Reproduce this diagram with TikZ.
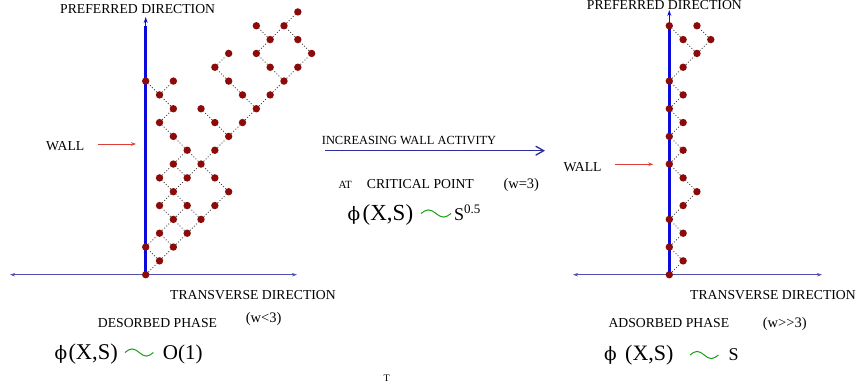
\documentclass[tikz,border=0pt]{standalone}
\usepackage{fontspec}
\setmainfont{Liberation Serif}
\newfontfamily\phifont{DejaVu Serif}
\usetikzlibrary{arrows.meta}
\definecolor{dotred}{RGB}{140,10,10}
\definecolor{wallblue}{RGB}{10,10,220}
\definecolor{axisblue}{RGB}{80,80,175}
\definecolor{arrowred}{RGB}{225,60,60}
\definecolor{tildegreen}{RGB}{20,160,20}
\definecolor{actblue}{RGB}{45,45,160}
\newcommand{\fsz}[1]{\fontsize{#1}{#1}\selectfont}
\begin{document}
\begin{tikzpicture}[x=1pt,y=1pt,
  dot/.style={circle,fill=dotred,inner sep=0pt,minimum size=7.4pt},
  bond/.style={dotted,line width=0.9pt,black!75},
  wallline/.style={wallblue,line width=2.8pt},
  walltip/.style={wallblue,line width=1pt,-{Stealth[length=6pt,width=4pt]}},
  axisline/.style={axisblue,line width=0.9pt,{Stealth[length=5pt,width=3.5pt]}-{Stealth[length=5pt,width=3.5pt]}},
  redarrow/.style={arrowred,line width=0.9pt,-{Stealth[length=5pt,width=3.5pt]}},
  actarrow/.style={actblue,line width=1.3pt,-{Straight Barb[length=8pt,width=9pt,line width=1.3pt]}},
  lbl/.style={inner sep=0pt,anchor=base west,font=\fsz{13.7}},
  fml/.style={inner sep=0pt,anchor=base west},
  wave/.style={tildegreen,line width=1pt}
]
\useasboundingbox (0,0) rectangle (858,389);

% ---------------- LEFT PANEL ----------------
\coordinate (Lbase) at (145.7,114.3);
\coordinate (Lwtop) at (145.7,363);
\coordinate (Lwtip) at (145.7,372);
\coordinate (Laxl) at (10,114.3);
\coordinate (Laxr) at (297,114.3);
\draw[axisline] (Laxl) -- (Laxr);
\draw[wallline] (Lbase) -- (Lwtop);
\draw[walltip] (Lwtop) -- (Lwtip);

\begin{scope}[shift={(145.7pt,114.3pt)},x=13.83pt,y=13.83pt]
\foreach \i/\j in {0/0,1/1,0/2,2/2,1/3,3/3,2/4,4/4,1/5,3/5,5/5,2/6,6/6,
  1/7,3/7,5/7,2/8,4/8,3/9,5/9,2/10,6/10,1/11,5/11,7/11,2/12,4/12,8/12,
  1/13,7/13,9/13,0/14,2/14,6/14,10/14,5/15,9/15,11/15,6/16,8/16,12/16,
  9/17,11/17,8/18,10/18,11/19}
  \node[dot] (L\i-\j) at (\i,\j) {};
\end{scope}
\foreach \a/\b in {0-0/1-1,1-1/0-2,1-1/2-2,0-2/1-3,2-2/1-3,2-2/3-3,
  1-3/2-4,3-3/2-4,3-3/4-4,2-4/1-5,2-4/3-5,4-4/3-5,4-4/5-5,
  1-5/2-6,3-5/2-6,5-5/6-6,2-6/1-7,2-6/3-7,6-6/5-7,
  1-7/2-8,3-7/2-8,3-7/4-8,5-7/4-8,2-8/3-9,4-8/3-9,4-8/5-9,
  3-9/2-10,5-9/6-10,2-10/1-11,6-10/5-11,6-10/7-11,
  1-11/2-12,5-11/4-12,7-11/8-12,2-12/1-13,8-12/7-13,8-12/9-13,
  1-13/0-14,1-13/2-14,7-13/6-14,9-13/10-14,6-14/5-15,10-14/9-15,10-14/11-15,
  5-15/6-16,9-15/8-16,11-15/12-16,8-16/9-17,12-16/11-17,
  9-17/8-18,9-17/10-18,11-17/10-18,10-18/11-19}
  \draw[bond] (L\a) -- (L\b);

\node[lbl] (Lpref) at (60,375.7) {PREFERRED DIRECTION};
\node[lbl] (Lwall) at (46,238.3) {WALL};
\coordinate (Lra) at (97.7,245);
\coordinate (Lrb) at (136,245);
\draw[redarrow] (Lra) -- (Lrb);
\node[lbl] (Ltrans) at (170,89.7) {TRANSVERSE DIRECTION};
\node[lbl] (Ldes) at (97.7,61.3) {DESORBED PHASE};
\node[lbl,font=\fsz{14.5}] (Lw) at (245.7,66.3) {(w<3)};
\node[fml,font=\fsz{18.5}\phifont] (Lphi) at (54.5,29.7) {ϕ};
\node[fml,font=\fsz{22.5}] (Lxs) at (68.3,29.7) {(X,S)};
\coordinate (Lt) at (125,36.5);
\draw[wave] (Lt) sin ++(7.1,3.6) cos ++(7.1,-3.6) sin ++(7.1,-3.6) cos ++(7.1,3.6);
\node[fml,font=\fsz{21}] (LO) at (162.7,29.7) {O(1)};

% ---------------- MIDDLE ----------------
\node[lbl,font=\fsz{12.4}] (Minc) at (321.7,245) {INCREASING WALL ACTIVITY};
\coordinate (Ma) at (325,238.3);
\coordinate (Mb) at (545,238.3);
\draw[actarrow] (Ma) -- (Mb);
\node[lbl,font=\fsz{11}] (Mat) at (338.3,200.5) {AT};
\node[lbl] (Mcrit) at (366.7,200.5) {CRITICAL POINT};
\node[lbl,font=\fsz{14.5}] (Mw) at (503.3,200.5) {(w=3)};
\node[fml,font=\fsz{18.5}\phifont] (Mphi) at (347.5,168.3) {ϕ};
\node[fml,font=\fsz{23}] (Mxs) at (362.5,168.3) {(X,S)};
\coordinate (Mt) at (421,175.5);
\draw[wave] (Mt) sin ++(7.5,3.6) cos ++(7.5,-3.6) sin ++(7.5,-3.6) cos ++(7.5,3.6);
\node[fml,font=\fsz{18}] (Ms) at (454,168.3) {S\raisebox{7pt}{\fsz{13}0.5}};

% ---------------- RIGHT PANEL ----------------
\coordinate (Rbase) at (669.3,114.3);
\coordinate (Rwtop) at (669.3,366);
\coordinate (Rwtip) at (669.3,379);
\coordinate (Raxl) at (573,114.3);
\coordinate (Raxr) at (822,114.3);
\draw[axisline] (Raxl) -- (Raxr);
\draw[wallline] (Rbase) -- (Rwtop);
\draw[walltip] (Rwtop) -- (Rwtip);

\begin{scope}[shift={(669.3pt,114.3pt)},x=13.83pt,y=13.83pt]
\foreach \i/\j in {0/0,1/1,0/2,1/3,0/4,1/5,2/6,1/7,0/8,1/9,0/10,1/11,
  0/12,1/13,0/14,1/15,2/16,1/17,3/17,0/18,2/18}
  \node[dot] (R\i-\j) at (\i,\j) {};
\end{scope}
\foreach \a/\b in {0-0/1-1,1-1/0-2,0-2/1-3,1-3/0-4,0-4/1-5,1-5/2-6,2-6/1-7,
  1-7/0-8,0-8/1-9,1-9/0-10,0-10/1-11,1-11/0-12,0-12/1-13,1-13/0-14,
  0-14/1-15,1-15/2-16,2-16/1-17,2-16/3-17,1-17/0-18,3-17/2-18}
  \draw[bond] (R\a) -- (R\b);

\node[lbl] (Rpref) at (586.7,379) {PREFERRED DIRECTION};
\node[lbl] (Rwall) at (563.3,217.3) {WALL};
\coordinate (Rra) at (615,224.7);
\coordinate (Rrb) at (653.3,224.7);
\draw[redarrow] (Rra) -- (Rrb);
\node[lbl] (Rtrans) at (690,89.7) {TRANSVERSE DIRECTION};
\node[lbl] (Rads) at (608.3,61.3) {ADSORBED PHASE};
\node[lbl,font=\fsz{14.5}] (Rw) at (762.7,61.5) {(w>\kern0pt>3)};
\node[fml,font=\fsz{18.5}\phifont] (Rphi) at (604,28.3) {ϕ};
\node[fml,font=\fsz{22}] (Rxs) at (625,28.3) {(X,S)};
\coordinate (Rt) at (690,34);
\draw[wave] (Rt) sin ++(7.1,3.6) cos ++(7.1,-3.6) sin ++(7.1,-3.6) cos ++(7.1,3.6);
\node[fml,font=\fsz{18}] (Rs) at (728.3,28.3) {S};

\node[lbl,font=\fsz{10}] (T) at (383.3,7.3) {T};
\end{tikzpicture}
\end{document}
